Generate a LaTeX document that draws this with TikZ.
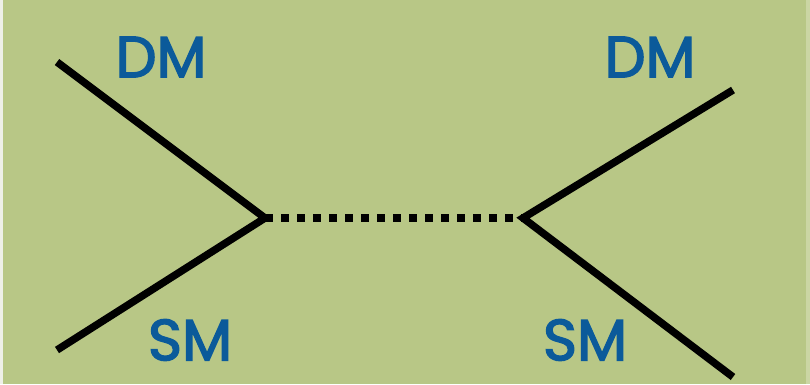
\documentclass[tikz,border=0pt]{standalone}
\usepackage{fontspec}
\newfontfamily\labfont{Poppins}[FakeBold=2.5]
\definecolor{bg}{HTML}{B8C786}
\definecolor{edgeL}{HTML}{EEF0E8}
\definecolor{edgeR}{HTML}{CBD6A4}
\definecolor{lbl}{HTML}{0B5A9A}
\tikzset{
  leg/.style={line width=7.5pt, black},
  prop/.style={line width=7.5pt, black, dash pattern=on 7.5pt off 8.5pt},
  lab/.style={text=lbl, font=\labfont\fontsize{58}{58}\selectfont, inner sep=0pt}
}
\begin{document}
\begin{tikzpicture}[x=1pt,y=-1pt]
\useasboundingbox (0,0) rectangle (810,384);
\fill[bg] (0,0) rectangle (810,384);
\fill[edgeL] (0,0) rectangle (3,384);
\fill[edgeR] (806,0) rectangle (810,384);
\coordinate (v1) at (265,218);
\coordinate (v2) at (523,218);
\coordinate (a) at (57,62);
\coordinate (b) at (57,350);
\coordinate (c) at (733,90);
\coordinate (d) at (733,377);
\draw[leg] (a) -- (v1) -- (b);
\draw[leg] (c) -- (v2) -- (d);
\draw[prop] (v1) -- (v2);
\node[lab] (dm1) at (161,57) {DM};
\node[lab] (dm2) at (650,57) {DM};
\node[lab] (sm1) at (190,340) {SM};
\node[lab] (sm2) at (585,340) {SM};
\end{tikzpicture}
\end{document}
